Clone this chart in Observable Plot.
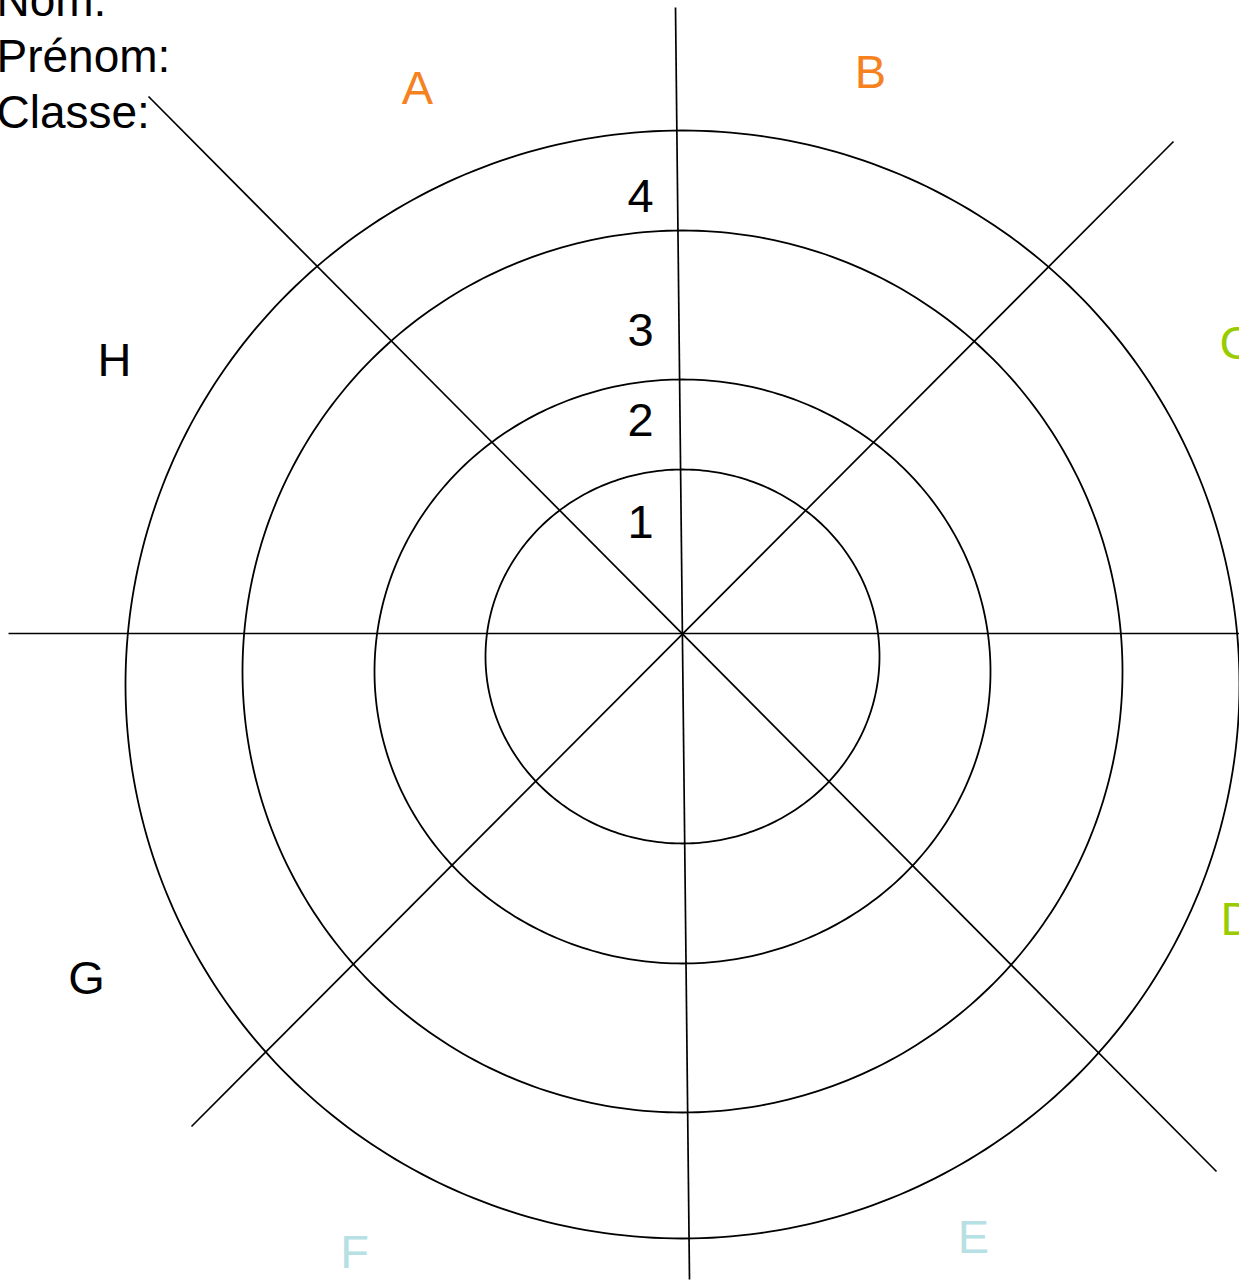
<!DOCTYPE html>
<html>
<head>
<meta charset="utf-8">
<script src="https://cdn.jsdelivr.net/npm/d3@7"></script>
<script src="https://cdn.jsdelivr.net/npm/@observablehq/plot@0.6"></script>
<style>
  html, body { margin: 0; padding: 0; background: #ffffff; }
  #chart svg { display: block; }
</style>
</head>
<body>
<div id="chart"></div>
<script>
// Rings (ellipse-ish circles), in drawing units (centre of the spokes = 0,0)
const ringNames = ["outer", "ring4", "ring3", "ring1"];
const ringCx = [0, 0, 0, 0];
const ringCy = [-51, -38, -38, -23];
const ringRx = [557, 440, 308, 197];
const ringRy = [554, 441, 292, 187];

// Spokes: end points
const spokeX1 = [-674, -7, -534, 491];
const spokeY1 = [0, 626, 537, 492];
const spokeX2 = [570, 7, 534, -491];
const spokeY2 = [0, -646, -538, -493];

// Category labels
const categories = ["A", "B", "C", "D", "E", "F", "G", "H"];
const catX = [-265, 188, 554, 555, 291, -328, -596, -568];
const catY = [545, 561, 290, -286, -604, -619, -345, 273];
const catColors = ["#F5821F", "#F5821F", "#99CC00", "#99CC00", "#B7E0E4", "#B7E0E4", "#000000", "#000000"];

// Level labels on the vertical spoke
const levels = ["4", "3", "2", "1"];
const levelX = [-42, -42, -42, -42];
const levelY = [437, 303, 213, 111];

// Header lines
const headerLines = ["Nom:", "Prénom:", "Classe:"];
const headerX = [-686, -686, -686];
const headerY = [618, 562, 506];

// Build tables
const ringPts = [];
ringNames.forEach((name, i) => {
  for (let a = 0; a <= 360; a += 1) {
    const t = a * Math.PI / 180;
    ringPts.push({ ring: name, x: ringCx[i] + ringRx[i] * Math.cos(t), y: ringCy[i] + ringRy[i] * Math.sin(t) });
  }
});
const spokes = spokeX1.map((x1, i) => ({ x1, y1: spokeY1[i], x2: spokeX2[i], y2: spokeY2[i] }));
const cats = categories.map((c, i) => ({ label: c, x: catX[i], y: catY[i], color: catColors[i] }));
const lev = levels.map((l, i) => ({ label: l, x: levelX[i], y: levelY[i] }));
const heads = headerLines.map((h, i) => ({ label: h, x: headerX[i], y: headerY[i] }));

const font = "'Liberation Sans', Arial, Helvetica, sans-serif";

const chart = Plot.plot({
  width: 1239,
  height: 1281,
  margin: 0,
  x: { domain: [-682, 557], axis: null },
  y: { domain: [-648, 633], axis: null },
  color: { type: "identity" },
  style: { background: "#ffffff" },
  marks: [
    Plot.line(ringPts, { x: "x", y: "y", z: "ring", stroke: "#000", strokeWidth: 1.8 }),
    Plot.link(spokes, { x1: "x1", y1: "y1", x2: "x2", y2: "y2", stroke: "#000", strokeWidth: 1.7 }),
    Plot.text(cats, { x: "x", y: "y", text: "label", fill: "color", fontSize: 47, fontFamily: font, textAnchor: "middle", lineAnchor: "middle" }),
    Plot.text(lev, { x: "x", y: "y", text: "label", fill: "#000", fontSize: 47, fontFamily: font, textAnchor: "middle", lineAnchor: "middle" }),
    Plot.text(heads, { x: "x", y: "y", text: "label", fill: "#000", fontSize: 46, fontFamily: font, textAnchor: "start", lineAnchor: "bottom" })
  ]
});
document.getElementById("chart").appendChild(chart);
</script>
</body>
</html>
